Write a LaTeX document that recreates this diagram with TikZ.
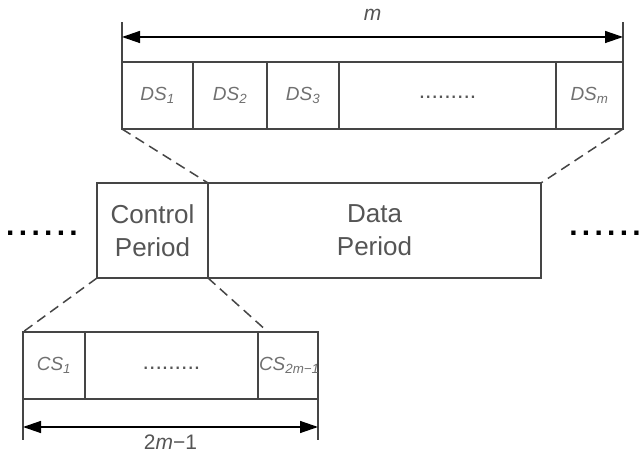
\documentclass[tikz,border=0pt]{standalone}
\usepackage{fontspec}
\setmainfont{Liberation Sans}
\usetikzlibrary{positioning,arrows.meta,calc}
\definecolor{linegray}{HTML}{454545}
\definecolor{textgray}{HTML}{555555}
\definecolor{slotgray}{HTML}{707070}
\newcommand\bigdotrow{.\hspace{4.3pt}.\hspace{4.3pt}.\hspace{4.3pt}.\hspace{4.3pt}.\hspace{4.3pt}.}

\begin{document}
\begin{tikzpicture}[
  x=1pt, y=1pt,
  slot/.style={draw=linegray, line width=1.4pt, inner sep=0pt, outer sep=0pt,
               minimum height=67pt, text=slotgray,
               font=\fontsize{19}{21}\selectfont\itshape},
  period/.style={draw=linegray, line width=1.4pt, inner sep=0pt, outer sep=0pt,
                 minimum height=95pt, align=center, text=textgray,
                 font=\fontsize{26}{33}\selectfont},
  zoomline/.style={draw=linegray, line width=1.5pt, dash pattern=on 10pt off 6pt},
  dim/.style={{Triangle[length=18pt,width=12pt]}-{Triangle[length=18pt,width=12pt]},
              draw=black, line width=1.4pt},
  ext/.style={draw=linegray, line width=1.3pt},
  dimlabel/.style={text=textgray, inner sep=0pt, font=\fontsize{21}{21}\selectfont},
  bigdots/.style={inner sep=0pt, font=\fontsize{30}{30}\selectfont\bfseries},
  smalldots/.style={inner sep=0pt, text=textgray, font=\fontsize{23}{23}\selectfont},
]
\useasboundingbox (0,0) rectangle (644,465);

% data slots
\node[slot, minimum width=71pt, anchor=north west] (ds1) at (122,403) {DS\textsubscript{1}};
\node[slot, minimum width=74pt, right=0pt of ds1] (ds2) {DS\textsubscript{2}};
\node[slot, minimum width=72pt, right=0pt of ds2] (ds3) {DS\textsubscript{3}};
\node[slot, minimum width=217pt, right=0pt of ds3] (dsdots) {};
\node[slot, minimum width=67pt, right=0pt of dsdots] (dsm) {DS\textsubscript{\textit{m}}};
\node[smalldots, yshift=-2pt] at (dsdots.center) (dsdotstext) {.........};

% frame
\node[period, minimum width=111pt, anchor=north west] (ctrl) at (97,282) {Control\\Period};
\node[period, minimum width=333pt, right=0pt of ctrl] (data) {Data\\Period};
\node[bigdots] (leftdots) at (42,232) {\bigdotrow};
\node[bigdots] (rightdots) at (605,232) {\bigdotrow};

% control slots
\node[slot, minimum width=62pt, anchor=north west] (cs1) at (23,133) {CS\textsubscript{1}};
\node[slot, minimum width=173pt, right=0pt of cs1] (csdots) {};
\node[slot, minimum width=60pt, right=0pt of csdots] (csn) {};
\node[smalldots, yshift=-3pt] at (csdots.center) (csdotstext) {.........};
\begin{scope}
  \clip (csn.south west) rectangle (csn.north east);
  \node[slot, draw=none, anchor=west, xshift=1pt] (csnlabel) at (csn.west)
    {CS\textsubscript{2\textit{m}−1}};
\end{scope}

% zoom lines
\draw[zoomline] (ds1.south west) -- (ctrl.north east);
\draw[zoomline] (dsm.south east) -- (data.north east);
\draw[zoomline] (ctrl.south west) -- (cs1.north west);
\draw[zoomline] (ctrl.south east) -- ([xshift=10pt]csn.north west);

% dimensions
\coordinate[above=40pt of ds1.north west] (mL);
\coordinate[above=40pt of dsm.north east] (mR);
\draw[ext] (ds1.north west) -- (mL);
\draw[ext] (dsm.north east) -- (mR);
\draw[dim] ([yshift=-15pt]mL) -- ([yshift=-15pt]mR)
  node[midway, above=16pt, dimlabel] (mlabel) {\textit{m}};

\coordinate[below=41pt of cs1.south west] (nL);
\coordinate[below=41pt of csn.south east] (nR);
\draw[ext] (cs1.south west) -- (nL);
\draw[ext] (csn.south east) -- (nR);
\draw[dim] ([yshift=13pt]nL) -- ([yshift=13pt]nR)
  node[midway, below=7pt, dimlabel] (nlabel) {2\textit{m}−1};
\end{tikzpicture}
\end{document}
